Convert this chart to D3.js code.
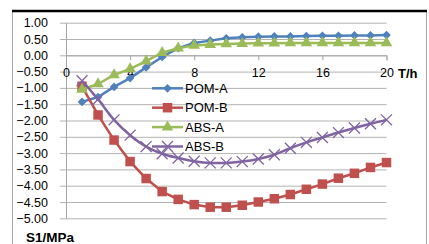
<!DOCTYPE html>
<html>
<head>
<meta charset="utf-8">
<script src="https://cdn.jsdelivr.net/npm/d3@7"></script>
<style>
  body { margin: 0; background: #fff; }
  svg { display: block; }
  .tick text { font-family: "Liberation Sans", Arial, sans-serif; font-size: 12.5px; fill: #000; }
  .grid line { stroke: #b3b3b3; stroke-width: 1; }
  .grid path { display: none; }
</style>
</head>
<body>
<div id="graphic"></div>
<script>
var width = 429;
var height = 244;

var hours = [1, 2, 3, 4, 5, 6, 7, 8, 9, 10, 11, 12, 13, 14, 15, 16, 17, 18, 19, 20];
var pomA = [-1.43, -1.28, -0.97, -0.70, -0.37, -0.05, 0.22, 0.38, 0.45, 0.52, 0.55, 0.57, 0.58, 0.58, 0.59, 0.60, 0.60, 0.61, 0.61, 0.62];
var pomB = [-0.95, -1.83, -2.60, -3.26, -3.78, -4.18, -4.42, -4.58, -4.66, -4.66, -4.60, -4.50, -4.40, -4.27, -4.11, -3.95, -3.77, -3.62, -3.44, -3.29];
var absA = [-1.05, -0.88, -0.60, -0.42, -0.18, 0.08, 0.22, 0.30, 0.33, 0.35, 0.36, 0.37, 0.37, 0.38, 0.38, 0.38, 0.38, 0.38, 0.38, 0.38];
var absB = [-0.78, -1.35, -1.98, -2.45, -2.80, -3.02, -3.15, -3.25, -3.30, -3.30, -3.26, -3.18, -3.05, -2.85, -2.67, -2.52, -2.37, -2.23, -2.10, -1.98];

var xTicks = [0, 4, 8, 12, 16, 20];
var yTicks = [1, 0.5, 0, -0.5, -1, -1.5, -2, -2.5, -3, -3.5, -4, -4.5, -5];

var seriesNames = ["POM-A", "POM-B", "ABS-A", "ABS-B"];
var seriesColors = ["#4f81bd", "#c0504d", "#9bbb59", "#8064a2"];

var plotLeft = 66, plotRight = 386.5, plotTop = 22.7, plotBottom = 218.3;

var svg = d3.select("#graphic").append("svg")
  .attr("width", width)
  .attr("height", height);

// frame
svg.append("line").attr("x1", 12.5).attr("x2", 12.5).attr("y1", 11).attr("y2", height).attr("stroke", "#a6a6a6");
svg.append("line").attr("x1", 426.5).attr("x2", 426.5).attr("y1", 11).attr("y2", height).attr("stroke", "#a6a6a6");
svg.append("line").attr("x1", 12).attr("x2", 427).attr("y1", 11).attr("y2", 11).attr("stroke", "#000").attr("stroke-width", 2.5);

var xScale = d3.scaleLinear().domain([0, 20]).range([plotLeft, plotRight]);
var yScale = d3.scaleLinear().domain([-5, 1]).range([plotBottom, plotTop]);

// horizontal gridlines (reach a little past the axis as outer ticks)
svg.append("g")
  .attr("class", "grid")
  .attr("transform", "translate(60,0)")
  .call(d3.axisRight(yScale).tickValues(yTicks).tickSize(plotRight - 60).tickFormat(""));

// y axis
var yAxis = svg.append("g")
  .attr("transform", "translate(" + plotLeft + ",0)")
  .call(d3.axisLeft(yScale).tickValues(yTicks).tickSize(0).tickPadding(18).tickFormat(d3.format(".2f")));
yAxis.select(".domain").attr("stroke", "#a6a6a6");

// x axis at y = 0
var xAxis = svg.append("g")
  .attr("transform", "translate(0," + yScale(0) + ")")
  .call(d3.axisBottom(xScale).tickValues(xTicks).tickSize(5).tickPadding(8));
xAxis.select(".domain").attr("stroke", "#a6a6a6");
xAxis.selectAll(".tick line").attr("stroke", "#a6a6a6");

svg.append("text")
  .attr("x", 398).attr("y", 78)
  .style("font-family", "Liberation Sans, Arial, sans-serif")
  .style("font-size", "13px").style("font-weight", "bold")
  .text("T/h");

svg.append("text")
  .attr("x", 26).attr("y", 242)
  .style("font-family", "Liberation Sans, Arial, sans-serif")
  .style("font-size", "13.5px").style("font-weight", "bold")
  .text("S1/MPa");

function toPoints(values) {
  return values.map(function(v, i) { return { x: hours[i], y: v }; });
}

var lineLinear = d3.line().x(d => xScale(d.x)).y(d => yScale(d.y));
var lineSmooth = d3.line().x(d => xScale(d.x)).y(d => yScale(d.y)).curve(d3.curveMonotoneX);

var allSeries = [pomA, pomB, absA, absB];
var markerShapes = [
  { type: d3.symbolSquare, size: 38, rotate: 45, fill: true },
  { type: d3.symbolSquare, size: 90, rotate: 0, fill: true },
  { type: d3.symbolTriangle, size: 58, rotate: 0, fill: true },
  { type: d3.symbolTimes, size: 80, rotate: 0, fill: false }
];

function drawMarker(g, i, cx, cy) {
  var m = markerShapes[i];
  var p = g.append("path")
    .attr("d", d3.symbol().type(m.type).size(m.size)())
    .attr("transform", "translate(" + cx + "," + cy + ") rotate(" + m.rotate + ")");
  if (m.fill) {
    p.attr("fill", seriesColors[i]);
  } else {
    p.attr("fill", "none").attr("stroke", seriesColors[i]).attr("stroke-width", 1.3);
  }
}

allSeries.forEach(function(values, i) {
  var pts = toPoints(values);
  var g = svg.append("g");
  g.append("path")
    .datum(pts)
    .attr("fill", "none")
    .attr("stroke", seriesColors[i])
    .attr("stroke-width", 2.5)
    .attr("stroke-linejoin", "round")
    .attr("d", i == 3 ? lineSmooth : lineLinear);
  pts.forEach(function(d) {
    drawMarker(g, i, xScale(d.x), yScale(d.y));
  });
});

// legend
var legendX = 152, legendY = 88.3, legendStep = 19.4;
seriesNames.forEach(function(name, i) {
  var g = svg.append("g");
  var y = legendY + i * legendStep;
  g.append("line")
    .attr("x1", legendX).attr("x2", legendX + 31)
    .attr("y1", y).attr("y2", y)
    .attr("stroke", seriesColors[i]).attr("stroke-width", 2.5);
  drawMarker(g, i, legendX + 15.5, y);
  g.append("text")
    .attr("x", legendX + 33).attr("y", y + 4.5)
    .style("font-family", "Liberation Sans, Arial, sans-serif")
    .style("font-size", "13px")
    .text(name);
});
</script>
</body>
</html>
